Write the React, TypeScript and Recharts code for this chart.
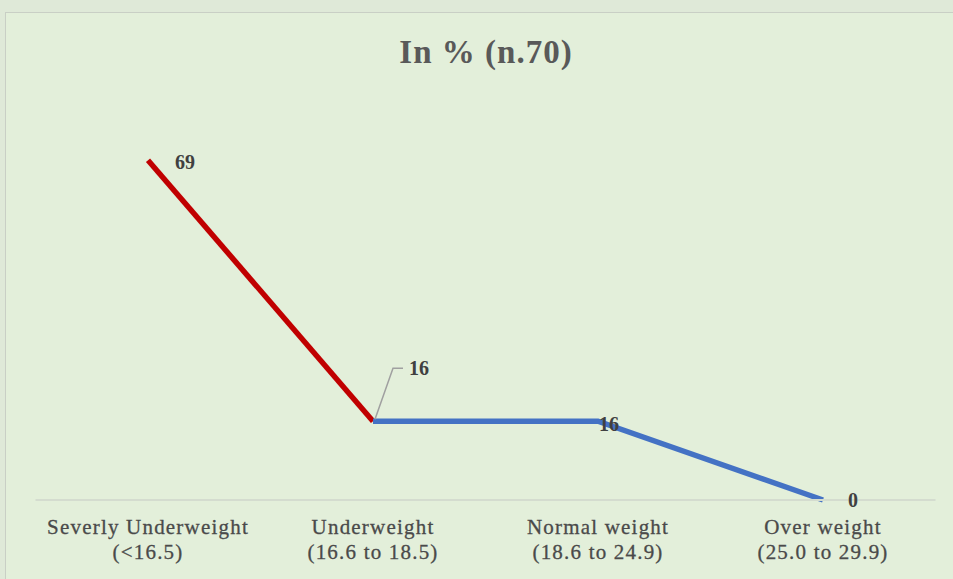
import React from "react";
import { LineChart, Line, XAxis, YAxis, LabelList } from "recharts";

const categories = ["Severly Underweight", "Underweight", "Normal weight", "Over weight"];
const ranges = ["(<16.5)", "(16.6 to 18.5)", "(18.6 to 24.9)", "(25.0 to 29.9)"];
const redValues: (number | null)[] = [69, 16, null, null];
const blueValues: (number | null)[] = [null, 16, 16, 0];
const labelValues = [69, 16, 16, 0];

const data = categories.map((c, i) => ({
  name: c,
  range: ranges[i],
  red: redValues[i],
  blue: blueValues[i],
  label: labelValues[i],
}));

const FONT = "'Liberation Serif', 'DejaVu Serif', serif";

const Tick = (props: any) => {
  const { x, y, payload, index } = props;
  return (
    <text x={x} y={y} textAnchor="middle" fontFamily={FONT} fontSize={21} letterSpacing={1.2} fill="#4a4a4a" stroke="#4a4a4a" strokeWidth={0.3}>
      <tspan x={x} dy={26}>{payload.value}</tspan>
      <tspan x={x} dy={25}>{ranges[index]}</tspan>
    </text>
  );
};

const RedLabel = (props: any) => {
  const { x, y, index, value } = props;
  if (index !== 0 || value == null) return null;
  return (
    <text x={x + 27} y={y + 9} fontFamily={FONT} fontSize={20} fontWeight="bold" fill="#404040">
      {value}
    </text>
  );
};

const BlueLabel = (props: any) => {
  const { x, y, index, value } = props;
  if (value == null) return null;
  if (index === 1) {
    return (
      <g>
        <path d={`M${x + 2},${y - 2} L${x + 20},${y - 53} L${x + 30},${y - 53}`} stroke="#a0a0a0" strokeWidth={1.5} fill="none" />
        <text x={x + 36} y={y - 46} fontFamily={FONT} fontSize={20} fontWeight="bold" fill="#404040">
          {value}
        </text>
      </g>
    );
  }
  if (index === 2) {
    return (
      <text x={x + 1} y={y + 10} fontFamily={FONT} fontSize={20} fontWeight="bold" fill="#404040">
        {value}
      </text>
    );
  }
  if (index === 3) {
    return (
      <text x={x + 25} y={y + 7} fontFamily={FONT} fontSize={20} fontWeight="bold" fill="#404040">
        {value}
      </text>
    );
  }
  return null;
};

export default function App() {
  return (
    <div style={{ position: "absolute", left: 0, top: 0, width: 953, height: 579, background: "#dfe9d8", overflow: "hidden" }}>
      <div
        style={{
          position: "absolute",
          left: 5,
          top: 12,
          width: 950,
          height: 570,
          border: "1px solid #c9cfc5",
          background: "#e3efda",
        }}
      >
        <div
          style={{
            position: "absolute",
            left: 0,
            top: 21,
            width: 960,
            textAlign: "center",
            fontFamily: FONT,
            fontSize: 33,
            letterSpacing: 1,
            fontWeight: "bold",
            color: "#595959",
          }}
        >
          In % (n.70)
        </div>
        <LineChart width={948} height={567} data={data} margin={{ top: 93, right: 18.5, bottom: 50, left: 29.5 }}>
          <XAxis
            dataKey="name"
            scale="point"
            padding={{ left: 112.5, right: 112.5 }}
            axisLine={{ stroke: "#d4dccf", strokeWidth: 2 }}
            tickLine={false}
            tick={<Tick />}
            interval={0}
          />
          <YAxis hide domain={[0, 80]} />
          <Line dataKey="red" stroke="#c00000" strokeWidth={5.5} dot={false} isAnimationActive={false} type="linear">
            <LabelList dataKey="red" content={<RedLabel />} />
          </Line>
          <Line dataKey="blue" stroke="#4472c4" strokeWidth={5.5} dot={false} isAnimationActive={false} type="linear">
            <LabelList dataKey="blue" content={<BlueLabel />} />
          </Line>
        </LineChart>
      </div>
    </div>
  );
}
